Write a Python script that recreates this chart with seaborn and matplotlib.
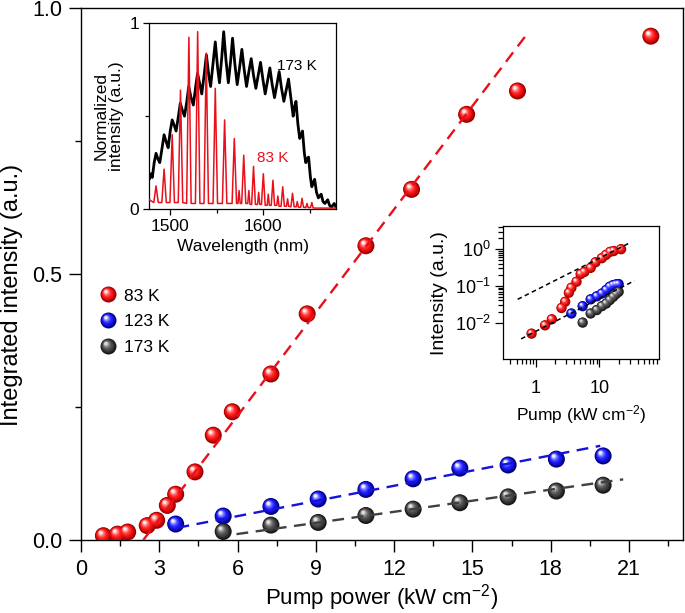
import numpy as np
import matplotlib
matplotlib.use("Agg")
import matplotlib.pyplot as plt
import seaborn as sns
from matplotlib.path import Path
from matplotlib.markers import MarkerStyle
from matplotlib.lines import Line2D
from matplotlib.legend_handler import HandlerTuple
from matplotlib.ticker import FixedLocator, MultipleLocator, NullFormatter, FixedFormatter
from matplotlib.colors import to_rgb

# ---------------- data ----------------
pump_83 = [0.86, 1.40, 1.79, 2.54, 2.90, 3.31, 3.63, 4.37, 5.07, 5.80, 7.28, 8.67, 10.92, 12.67, 14.78, 16.73, 21.84]
int_83 = [0.008, 0.011, 0.015, 0.027, 0.037, 0.065, 0.086, 0.128, 0.197, 0.241, 0.312, 0.425, 0.553, 0.659, 0.800, 0.844, 0.947]
pump_123 = [3.63, 5.45, 7.28, 9.09, 10.92, 12.73, 14.52, 16.37, 18.22, 20.01]
int_123 = [0.030, 0.045, 0.063, 0.077, 0.095, 0.115, 0.135, 0.141, 0.152, 0.158]
pump_173 = [5.45, 7.28, 9.09, 10.92, 12.73, 14.52, 16.37, 18.22, 20.01]
int_173 = [0.016, 0.028, 0.033, 0.046, 0.058, 0.070, 0.081, 0.092, 0.103]

# linear fits drawn in the main panel (end points)
fit83_x = [2.39, 17.11]
fit83_y = [0.0, 0.952]
fit123_x = [3.70, 19.90]
fit123_y = [0.023, 0.177]
fit173_x = [5.96, 20.78]
fit173_y = [0.011, 0.114]

# log-log inset (normalised intensities)
log_int_83 = [0.0050, 0.0084, 0.0123, 0.025, 0.037, 0.065, 0.089, 0.13, 0.21, 0.24, 0.31, 0.44, 0.57, 0.70, 0.85, 0.89, 1.0]
log_int_123 = [0.0177, 0.028, 0.043, 0.052, 0.062, 0.077, 0.095, 0.105, 0.110, 0.112]
log_int_173 = [0.010, 0.0177, 0.022, 0.028, 0.033, 0.041, 0.050, 0.060, 0.069]
loglin_hi_x = [0.52, 31.3]
loglin_hi_y = [0.043, 1.55]
loglin_lo_x = [0.59, 35.3]
loglin_lo_y = [0.0036, 0.138]

# spectra inset
red_wl = [1477.8, 1482.6, 1485.0, 1487.4, 1491.2, 1493.6, 1496.0, 1499.9, 1502.3, 1504.7,
          1508.8, 1511.2, 1513.6, 1517.8, 1520.2, 1522.6, 1527.2, 1529.6, 1532.0, 1536.4,
          1538.8, 1541.2, 1546.1, 1548.5, 1550.9, 1556.1, 1558.5, 1560.9, 1566.5, 1568.9,
          1571.3, 1572.8, 1574.0, 1575.2, 1576.8, 1579.0, 1581.2, 1583.3, 1584.5, 1585.7,
          1587.5, 1589.5, 1591.5, 1593.8, 1595.0, 1596.2, 1598.0, 1600.0, 1602.0, 1604.1,
          1605.3, 1606.5, 1608.5, 1610.3, 1612.1, 1614.4, 1615.6, 1616.8, 1619.0, 1620.8,
          1622.6, 1624.8, 1626.0, 1627.2, 1629.6, 1631.3, 1633.0, 1635.2, 1636.4, 1637.6,
          1640.0, 1641.5, 1643.0, 1645.6, 1646.8, 1648.0, 1650.6, 1652.0, 1653.4, 1656.0, 1677.8]
red_int = [0.05, 0.035, 0.125, 0.035, 0.035, 0.215, 0.035, 0.035, 0.40, 0.035,
           0.035, 0.64, 0.035, 0.03, 0.925, 0.03, 0.03, 0.955, 0.03, 0.03,
           0.84, 0.03, 0.03, 0.65, 0.03, 0.03, 0.48, 0.03, 0.03, 0.38,
           0.03, 0.03, 0.10, 0.03, 0.03, 0.29, 0.03, 0.03, 0.10, 0.025,
           0.025, 0.23, 0.025, 0.025, 0.09, 0.025, 0.025, 0.19, 0.02, 0.02,
           0.08, 0.02, 0.02, 0.155, 0.02, 0.02, 0.07, 0.015, 0.015, 0.12,
           0.015, 0.015, 0.055, 0.015, 0.012, 0.085, 0.012, 0.012, 0.04, 0.01,
           0.01, 0.058, 0.01, 0.008, 0.03, 0.008, 0.008, 0.035, 0.006, 0.005, 0.005]
black_wl = [1477.8, 1479.5, 1481.0, 1483.0, 1485.0, 1487.0, 1489.0, 1491.5, 1493.6, 1496.0,
            1498.0, 1500.2, 1502.3, 1504.5, 1506.5, 1509.0, 1511.0, 1513.3, 1515.5, 1518.0,
            1520.0, 1522.5, 1525.0, 1527.5, 1529.5, 1532.0, 1534.0, 1536.5, 1539.0, 1541.5,
            1543.5, 1546.0, 1548.5, 1551.0, 1553.0, 1555.5, 1557.5, 1560.0, 1562.5, 1565.0,
            1567.0, 1569.5, 1572.0, 1574.5, 1577.0, 1579.5, 1582.0, 1584.5, 1587.0, 1589.5,
            1592.0, 1594.5, 1597.0, 1599.5, 1602.0, 1604.5, 1607.0, 1609.5, 1612.0, 1614.5,
            1617.0, 1619.5, 1622.0, 1624.5, 1627.0, 1629.5, 1632.0, 1633.5, 1635.0, 1637.0,
            1639.0, 1640.5, 1642.0, 1644.0, 1645.5, 1647.0, 1648.5, 1650.5, 1652.0, 1653.5,
            1655.0, 1657.0, 1659.0, 1660.5, 1662.0, 1664.0, 1666.0, 1667.5, 1669.0, 1671.0,
            1673.0, 1674.5, 1676.0, 1677.8]
black_int = [0.16, 0.19, 0.17, 0.25, 0.30, 0.27, 0.25, 0.33, 0.40, 0.36,
             0.33, 0.42, 0.48, 0.45, 0.42, 0.50, 0.57, 0.53, 0.50, 0.58,
             0.66, 0.60, 0.56, 0.66, 0.73, 0.67, 0.62, 0.72, 0.83, 0.72,
             0.66, 0.78, 0.90, 0.76, 0.68, 0.82, 0.955, 0.80, 0.68, 0.80,
             0.92, 0.78, 0.67, 0.76, 0.86, 0.75, 0.66, 0.74, 0.81, 0.72,
             0.65, 0.72, 0.79, 0.70, 0.62, 0.69, 0.76, 0.67, 0.60, 0.67,
             0.74, 0.65, 0.58, 0.64, 0.70, 0.60, 0.50, 0.55, 0.58, 0.46,
             0.38, 0.40, 0.42, 0.30, 0.25, 0.27, 0.28, 0.17, 0.12, 0.14,
             0.16, 0.09, 0.06, 0.07, 0.08, 0.04, 0.03, 0.04, 0.05, 0.02,
             0.01, 0.02, 0.03, 0.01]

legend_labels = ["83 K", "123 K", "173 K"]
main_xticks = [0, 3, 6, 9, 12, 15, 18, 21]
main_yticks = [0.0, 0.5, 1.0]

# ---------------- style ----------------
sns.set_theme(style="ticks", rc={
    "axes.edgecolor": "black", "xtick.color": "black", "ytick.color": "black",
    "text.color": "black", "axes.labelcolor": "black", "axes.linewidth": 1.0,
})
plt.rcParams["font.family"] = ["Liberation Sans", "DejaVu Sans"]
plt.rcParams["mathtext.fontset"] = "custom"
plt.rcParams["mathtext.rm"] = "Liberation Sans"
plt.rcParams["mathtext.it"] = "Liberation Sans:italic"
plt.rcParams["mathtext.bf"] = "Liberation Sans:bold"
plt.rcParams["mathtext.sf"] = "Liberation Sans"

RED = "#e8101a"
BLUE = "#1414d6"
GRAY = "#404040"


def sphere_layers(rim, body, hi, n=8):
    rim, body, hi = (np.array(to_rgb(c)) for c in (rim, body, hi))
    out = []
    box = Path([(-0.5, -0.5), (0.5, 0.5)], [Path.MOVETO, Path.MOVETO])
    for k in range(n):
        t = k / (n - 1)
        cx, cy = -0.16 * t, 0.18 * t
        r = 0.5 * (1 - 0.8 * t)
        if t <= 0.4:
            c = rim + (body - rim) * (t / 0.4)
        else:
            c = body + (hi - body) * ((t - 0.4) / 0.6) ** 1.6
        p = Path.make_compound_path(box, Path.circle((cx, cy), r))
        out.append((MarkerStyle(p), tuple(np.clip(c, 0, 1))))
    return out


red_layers = sphere_layers("#9a0000", "#ff1414", "#fff0f0")
blue_layers = sphere_layers("#00007a", "#1a1aff", "#f0f0ff")
gray_layers = sphere_layers("#151515", "#4a4a4a", "#e0e0e0")


def spheres(ax, x, y, layers, s, z=3):
    for m, c in layers:
        sns.scatterplot(x=x, y=y, marker=m, color=c, s=s, linewidth=0,
                        edgecolor="none", ax=ax, zorder=z, legend=False)


fig = plt.figure(figsize=(6.85, 6.13), dpi=100)

# ---------------- main axes ----------------
ax = fig.add_axes([0.1182, 0.1191, 0.8788, 0.8679])
S_MAIN = 150
spheres(ax, pump_83, int_83, red_layers, S_MAIN)
spheres(ax, pump_123, int_123, blue_layers, S_MAIN)
spheres(ax, pump_173, int_173, gray_layers, S_MAIN)

dash_main = (0, (5, 3.2))
sns.lineplot(x=fit83_x, y=fit83_y, ax=ax, color=RED, lw=1.7, linestyle=dash_main, zorder=4, estimator=None)
sns.lineplot(x=fit123_x, y=fit123_y, ax=ax, color=BLUE, lw=1.7, linestyle=dash_main, zorder=4, estimator=None)
sns.lineplot(x=fit173_x, y=fit173_y, ax=ax, color=GRAY, lw=1.7, linestyle=dash_main, zorder=4, estimator=None)

ax.set_xlim(0, 23.07)
ax.set_ylim(0, 1.0)
ax.xaxis.set_major_locator(FixedLocator(main_xticks))
ax.xaxis.set_minor_locator(MultipleLocator(1.5))
ax.yaxis.set_major_locator(FixedLocator(main_yticks))
ax.yaxis.set_minor_locator(MultipleLocator(0.25))
ax.set_xticklabels([str(v) for v in main_xticks])
ax.set_yticklabels([f"{v:.1f}" for v in main_yticks])
ax.tick_params(which="major", direction="out", length=8.5, width=1.0, labelsize=15.5, pad=5)
ax.tick_params(which="minor", direction="out", length=4.5, width=1.0)
for sp in ax.spines.values():
    sp.set_visible(True)
    sp.set_linewidth(1.0)
ax.set_xlabel("Pump power (kW cm$^{-2}$)", fontsize=16, labelpad=2)
ax.set_ylabel("Integrated intensity (a.u.)", fontsize=17, labelpad=4)
ax.yaxis.set_label_coords(-0.097, 0.46)

handles = []
for layers in (red_layers, blue_layers, gray_layers):
    handles.append(tuple(Line2D([], [], ls="none", marker=m, markersize=11.5,
                                markerfacecolor=c, markeredgecolor="none",
                                markeredgewidth=0) for m, c in layers))
ax.legend(handles, legend_labels, handler_map={tuple: HandlerTuple(ndivide=1, pad=0)},
          loc="center left", bbox_to_anchor=(0.030, 0.41), frameon=False,
          fontsize=12.5, handlelength=1.0, handletextpad=0.45, labelspacing=0.62,
          borderpad=0, borderaxespad=0, numpoints=1)

# ---------------- spectra inset ----------------
ax1 = fig.add_axes([0.218, 0.659, 0.2721, 0.3029])
sns.lineplot(x=black_wl, y=black_int, ax=ax1, color="black", lw=2.0, estimator=None, sort=False, zorder=2)
sns.lineplot(x=red_wl, y=red_int, ax=ax1, color=RED, lw=1.1, estimator=None, sort=False, zorder=3)
ax1.set_xlim(1477.8, 1677.6)
ax1.set_ylim(0, 1)
ax1.xaxis.set_major_locator(FixedLocator([1500, 1600]))
ax1.xaxis.set_minor_locator(FixedLocator([1550, 1650]))
ax1.yaxis.set_major_locator(FixedLocator([0, 1]))
ax1.yaxis.set_minor_locator(FixedLocator([0.5]))
ax1.set_xticklabels(["1500", "1600"])
ax1.set_yticklabels(["0", "1"])
ax1.tick_params(which="major", direction="out", length=4, width=0.9, labelsize=12.5, pad=3.5)
ax1.tick_params(which="minor", direction="out", length=3, width=0.9)
for sp in ax1.spines.values():
    sp.set_linewidth(0.9)
ax1.set_xlabel("Wavelength (nm)", fontsize=12.5, labelpad=3)
ax1.set_ylabel("Normalized\nintensity (a.u.)", fontsize=12.5, labelpad=4, linespacing=1.0)
ax1.text(1636, 0.77, "173 K", fontsize=11, color="black", ha="center", va="center")
ax1.text(1609.5, 0.275, "83 K", fontsize=11, color=RED, ha="center", va="center")

# ---------------- log-log inset ----------------
ax2 = fig.add_axes([0.7348, 0.4139, 0.2277, 0.2175])
ax2.set_xscale("log")
ax2.set_yscale("log")
S_IN = 55
spheres(ax2, pump_83, log_int_83, red_layers, S_IN)
spheres(ax2, pump_123, log_int_123, blue_layers, S_IN)
spheres(ax2, pump_173, log_int_173, gray_layers, S_IN)
dash_in = (0, (3, 2.2))
sns.lineplot(x=loglin_hi_x, y=loglin_hi_y, ax=ax2, color="black", lw=1.1, linestyle=dash_in, zorder=4, estimator=None)
sns.lineplot(x=loglin_lo_x, y=loglin_lo_y, ax=ax2, color="black", lw=1.1, linestyle=dash_in, zorder=4, estimator=None)
ax2.set_xlim(0.31, 87)
ax2.set_ylim(1.0e-3, 4.3)
ax2.xaxis.set_major_locator(FixedLocator([1, 10]))
ax2.xaxis.set_major_formatter(FixedFormatter(["1", "10"]))
ax2.xaxis.set_minor_locator(FixedLocator([0.4, 0.5, 0.6, 0.7, 0.8, 0.9, 2, 3, 4, 5, 6, 7, 8, 9,
                                          20, 30, 40, 50, 60, 70, 80]))
ax2.xaxis.set_minor_formatter(NullFormatter())
ax2.yaxis.set_major_locator(FixedLocator([1e-2, 1e-1, 1]))
ax2.yaxis.set_major_formatter(FixedFormatter(["$10^{-2}$", "$10^{-1}$", "$10^{0}$"]))
ax2.yaxis.set_minor_locator(FixedLocator([0.02, 0.03, 0.04, 0.05, 0.06, 0.07, 0.08, 0.09,
                                          0.2, 0.3, 0.4, 0.5, 0.6, 0.7, 0.8, 0.9, 2, 3, 4]))
ax2.yaxis.set_minor_formatter(NullFormatter())
ax2.tick_params(which="major", direction="out", length=6, width=0.9, labelsize=13, pad=3)
ax2.tick_params(axis="x", which="major", pad=9)
ax2.tick_params(which="minor", direction="out", length=3.5, width=0.9)
for sp in ax2.spines.values():
    sp.set_linewidth(0.9)
ax2.set_xlabel("Pump (kW cm$^{-2}$)", fontsize=12.5, labelpad=4)
ax2.set_ylabel("Intensity (a.u.)", fontsize=14, labelpad=5)

fig.savefig("out.png", dpi=100)
